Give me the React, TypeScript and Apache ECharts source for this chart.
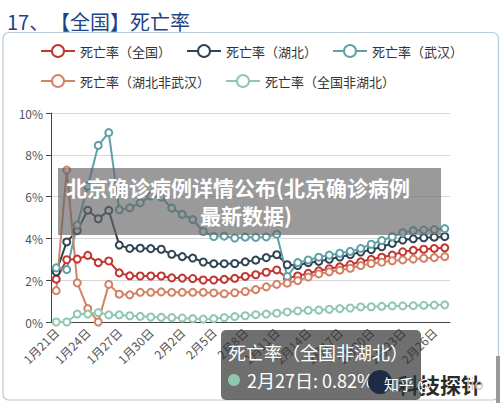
import React, { useEffect, useRef } from "react";
import * as echarts from "echarts";

const dates = [
  "1月21日", "1月22日", "1月23日", "1月24日", "1月25日", "1月26日", "1月27日", "1月28日", "1月29日", "1月30日", "1月31日",
  "2月1日", "2月2日", "2月3日", "2月4日", "2月5日", "2月6日", "2月7日", "2月8日", "2月9日", "2月10日",
  "2月11日", "2月12日", "2月13日", "2月14日", "2月15日", "2月16日", "2月17日", "2月18日", "2月19日", "2月20日",
  "2月21日", "2月22日", "2月23日", "2月24日", "2月25日", "2月26日", "2月27日",
];

const national = [2.05, 2.98, 3.01, 3.19, 2.84, 2.92, 2.35, 2.21, 2.2, 2.2, 2.2,
  2.11, 2.1, 2.08, 2.01, 2.01, 2.04, 2.09, 2.18, 2.26, 2.38, 2.49, 2.11, 2.2, 2.33, 2.45, 2.55, 2.64, 2.75, 2.88, 3.0, 3.1, 3.2, 3.36, 3.43, 3.48, 3.52, 3.55];
const hubei = [2.4, 3.83, 4.37, 5.35, 4.94, 5.34, 3.68, 3.52, 3.53, 3.51, 3.48,
  3.24, 3.13, 3.06, 2.87, 2.79, 2.79, 2.8, 2.88, 2.96, 3.08, 3.22, 2.74, 2.7, 2.84, 2.9, 3.0, 3.11, 3.22, 3.35, 3.46, 3.6, 3.76, 3.92, 3.98, 4.03, 4.06, 4.09];
const wuhan = [2.59, 2.51, 4.64, 6.5, 8.45, 9.06, 5.37, 5.46, 5.7, 6.03, 5.98,
  5.45, 5.15, 4.9, 4.33, 4.09, 4.11, 4.02, 4.06, 4.05, 4.07, 4.2, 2.18, 2.84, 2.97, 3.1, 3.2, 3.29, 3.38, 3.52, 3.72, 3.9, 4.08, 4.27, 4.37, 4.4, 4.42, 4.47];
const hubeiNonWuhan = [1.5, 7.27, 1.87, 0.64, 0.0, 1.8, 1.33, 1.3, 1.42, 1.42, 1.44,
  1.42, 1.42, 1.42, 1.42, 1.39, 1.35, 1.4, 1.46, 1.55, 1.68, 1.8, 1.86, 1.98, 2.15, 2.3, 2.4, 2.48, 2.57, 2.7, 2.8, 2.86, 2.93, 2.97, 3.01, 3.05, 3.08, 3.13];
const nonHubei = [0.0, 0.0, 0.38, 0.38, 0.45, 0.34, 0.34, 0.3, 0.27, 0.24, 0.22,
  0.21, 0.19, 0.16, 0.14, 0.16, 0.21, 0.26, 0.3, 0.35, 0.38, 0.42, 0.48, 0.53, 0.56, 0.57, 0.61, 0.64, 0.67, 0.72, 0.73, 0.75, 0.77, 0.77, 0.78, 0.8, 0.81, 0.82];

const seriesNames = ["死亡率（全国）", "死亡率（湖北）", "死亡率（武汉）", "死亡率（湖北非武汉）", "死亡率（全国非湖北）"];
const seriesData = [national, hubei, wuhan, hubeiNonWuhan, nonHubei];
const colors = ["#c23531", "#2f4554", "#61a0a8", "#d48265", "#91c7ae"];

const titleNumber = "17、";
const titleText = "【全国】死亡率";
const overlayLine1 = "北京确诊病例详情公布(北京确诊病例";
const overlayLine2 = "最新数据)";
const tipTitle = "死亡率（全国非湖北）";
const tipValue = "2月27日: 0.82%";

const FONT = "'Noto Sans CJK SC', 'Noto Sans', sans-serif";

export default function App() {
  const ref = useRef<HTMLDivElement>(null);
  useEffect(() => {
    if (!ref.current) return;
    const chart = echarts.init(ref.current, undefined, { renderer: "svg" });
    const legendCommon = {
      left: 35,
      itemWidth: 34,
      itemHeight: 15,
      itemGap: 15,
      textStyle: { color: "#333", fontSize: 13, fontFamily: FONT },
    };
    const titleStyle = { color: "#1f4388", fontSize: 20, fontWeight: "normal", fontFamily: FONT };
    chart.setOption({
      animation: false,
      color: colors,
      textStyle: { fontFamily: FONT },
      title: [
        { text: titleNumber, left: 2, top: 6, textStyle: titleStyle },
        { text: titleText, left: 45, top: 6, textStyle: titleStyle },
      ],
      legend: [
        { ...legendCommon, top: 39, data: seriesNames.slice(0, 3) },
        { ...legendCommon, top: 69, data: seriesNames.slice(3) },
      ],
      grid: { left: 51, right: 50, top: 113, bottom: 81 },
      xAxis: {
        type: "category",
        data: dates,
        boundaryGap: true,
        axisLine: { lineStyle: { color: "#444" } },
        axisTick: { interval: 2, lineStyle: { color: "#444" } },
        axisLabel: { interval: 2, rotate: 45, color: "#555", fontSize: 12, fontFamily: FONT },
      },
      yAxis: {
        type: "value",
        min: 0,
        max: 10,
        interval: 2,
        axisLine: { show: true, lineStyle: { color: "#444" } },
        axisTick: { show: true, lineStyle: { color: "#444" } },
        axisLabel: { formatter: "{value}%", color: "#555", fontSize: 12, fontFamily: FONT },
        splitLine: { lineStyle: { color: "#d6d6d6" } },
      },
      series: seriesData.map((d, i) => ({
        name: seriesNames[i],
        type: "line",
        data: d,
        symbol: "emptyCircle",
        symbolSize: 7,
        lineStyle: { width: 2 },
        itemStyle: { borderWidth: 1.5 },
      })),
      graphic: [
        {
          type: "rect",
          z: -10,
          shape: { x: 3, y: 32.5, width: 495.5, height: 367.5, r: 6 },
          style: { fill: "none", stroke: "#b9cbd6", lineWidth: 1.2 },
        },
        {
          type: "rect",
          z: 100,
          shape: { x: 58, y: 168, width: 383, height: 67 },
          style: { fill: "rgba(100,100,100,0.65)" },
        },
        {
          type: "text",
          z: 101,
          x: 66,
          y: 187,
          style: { text: overlayLine1, fill: "#fff", font: `bold 21px ${FONT}`, textVerticalAlign: "middle" },
        },
        {
          type: "text",
          z: 101,
          x: 200,
          y: 215,
          style: { text: overlayLine2, fill: "#fff", font: `bold 21px ${FONT}`, textVerticalAlign: "middle" },
        },
        {
          type: "text",
          z: 99,
          x: 398,
          y: 384,
          style: { text: "科技探针", fill: "#2a2a2a", font: `bold 21px ${FONT}`, textVerticalAlign: "middle" },
        },
        {
          type: "rect",
          z: 100,
          shape: { x: 221, y: 330, width: 200, height: 70, r: 5 },
          style: { fill: "rgba(50,50,50,0.7)" },
        },
        {
          type: "text",
          z: 101,
          x: 228,
          y: 352,
          style: { text: tipTitle, fill: "#fff", font: `18px ${FONT}`, textVerticalAlign: "middle" },
        },
        {
          type: "circle",
          z: 101,
          shape: { cx: 234, cy: 380, r: 6 },
          style: { fill: colors[4] },
        },
        {
          type: "text",
          z: 101,
          x: 247,
          y: 380,
          style: { text: tipValue, fill: "#fff", font: `18px ${FONT}`, textVerticalAlign: "middle" },
        },
        {
          type: "circle",
          z: 102,
          shape: { cx: 380, cy: 382, r: 12 },
          style: { fill: "#1c2c44" },
        },
        {
          type: "text",
          z: 103,
          x: 384,
          y: 383,
          style: { text: "知乎 @", fill: "#fff", font: `15px ${FONT}`, textVerticalAlign: "middle" },
        },
        {
          type: "text",
          z: 103,
          x: 466,
          y: 383,
          style: { text: "lio", fill: "#c8c8c8", font: `15px ${FONT}`, textVerticalAlign: "middle" },
        },
        {
          type: "rect",
          z: 50,
          shape: { x: 496, y: 356, width: 4, height: 47 },
          style: { fill: "#9a9a9a" },
        },
      ],
    });
    return () => chart.dispose();
  }, []);
  return (
    <div
      ref={ref}
      style={{ position: "fixed", left: 0, top: 0, width: 500, height: 403, background: "#fff" }}
    />
  );
}
